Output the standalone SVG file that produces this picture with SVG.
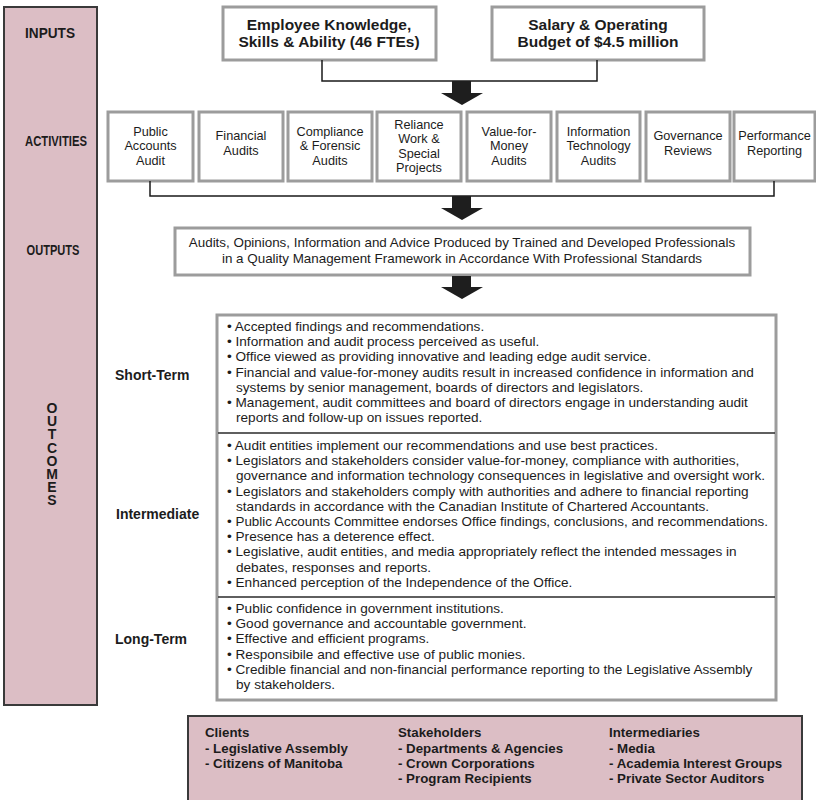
<svg xmlns="http://www.w3.org/2000/svg" width="816" height="800" viewBox="0 0 816 800">
<style>
text{font-family:"Liberation Sans",Arial,sans-serif;fill:#1c1c1c}
.side{fill:#dcbec5;stroke:#3a3a3a;stroke-width:2}
.box{fill:#fff;stroke:#9c9c9c;stroke-width:3}
.lbl{font-weight:bold;font-size:14px}
.side-t{font-weight:bold;font-size:14px;text-anchor:middle}
.vert{font-weight:bold;font-size:14px;writing-mode:vertical-rl;text-orientation:upright;letter-spacing:-2.8px}
.inp{font-weight:bold;font-size:15.5px;text-anchor:middle}
.act{font-size:12.7px;text-anchor:middle}
.out{font-size:13.4px;text-anchor:middle}
.body{font-size:13.6px}
.grp{font-weight:bold;font-size:13.3px}
.conn{fill:none;stroke:#1a1a1a;stroke-width:1.5}
.arrow{fill:#1e1e1e}
.div{stroke:#2a2a2a;stroke-width:1.5}
</style>

<g id="sidebar">
<rect class="side" x="4" y="7" width="93" height="698"/>
<text class="side-t" x="50" y="38" textLength="50" lengthAdjust="spacingAndGlyphs">INPUTS</text>
<text class="side-t" x="56" y="146" textLength="62" lengthAdjust="spacingAndGlyphs">ACTIVITIES</text>
<text class="side-t" x="53" y="255" textLength="53" lengthAdjust="spacingAndGlyphs">OUTPUTS</text>
<text class="vert" x="52" y="400">OUTCOMES</text>
</g>

<g id="input-knowledge">
<rect class="box" x="223" y="7" width="213" height="53"/>
<text class="inp" x="329" y="30">Employee Knowledge,</text>
<text class="inp" x="329" y="47">Skills &amp; Ability (46 FTEs)</text>
</g>
<g id="input-budget">
<rect class="box" x="492" y="7" width="212" height="53"/>
<text class="inp" x="598" y="30">Salary &amp; Operating</text>
<text class="inp" x="598" y="47">Budget of $4.5 million</text>
</g>

<g id="act-public">
<rect class="box" x="108" y="112" width="85" height="69"/>
<text class="act" x="150.5" y="135.5">Public</text>
<text class="act" x="150.5" y="150">Accounts</text>
<text class="act" x="150.5" y="164.5">Audit</text>
</g>
<g id="act-financial">
<rect class="box" x="199" y="112" width="84" height="69"/>
<text class="act" x="241" y="140">Financial</text>
<text class="act" x="241" y="154.5">Audits</text>
</g>
<g id="act-compliance">
<rect class="box" x="288" y="112" width="84" height="69"/>
<text class="act" x="330" y="135.5">Compliance</text>
<text class="act" x="330" y="150">&amp; Forensic</text>
<text class="act" x="330" y="164.5">Audits</text>
</g>
<g id="act-reliance">
<rect class="box" x="377" y="112" width="84" height="69"/>
<text class="act" x="419" y="128.5">Reliance</text>
<text class="act" x="419" y="143">Work &amp;</text>
<text class="act" x="419" y="157.5">Special</text>
<text class="act" x="419" y="172">Projects</text>
</g>
<g id="act-vfm">
<rect class="box" x="467" y="112" width="84" height="69"/>
<text class="act" x="509" y="135.5">Value-for-</text>
<text class="act" x="509" y="150">Money</text>
<text class="act" x="509" y="164.5">Audits</text>
</g>
<g id="act-it">
<rect class="box" x="557" y="112" width="83" height="69"/>
<text class="act" x="598.5" y="135.5">Information</text>
<text class="act" x="598.5" y="150">Technology</text>
<text class="act" x="598.5" y="164.5">Audits</text>
</g>
<g id="act-governance">
<rect class="box" x="646" y="112" width="84" height="69"/>
<text class="act" x="688" y="140">Governance</text>
<text class="act" x="688" y="154.5">Reviews</text>
</g>
<g id="act-performance">
<rect class="box" x="734" y="112" width="81" height="69"/>
<text class="act" x="774.5" y="140">Performance</text>
<text class="act" x="774.5" y="154.5">Reporting</text>
</g>

<g id="outputs">
<rect class="box" x="175" y="228" width="575" height="47"/>
<text class="out" x="462" y="247">Audits, Opinions, Information and Advice Produced by Trained and Developed Professionals</text>
<text class="out" x="462" y="263">in a Quality Management Framework in Accordance With Professional Standards</text>
</g>

<g id="outcomes">
<rect class="box" x="217" y="315" width="559" height="385"/>
<line class="div" x1="218" y1="433" x2="775" y2="433"/>
<line class="div" x1="218" y1="597" x2="775" y2="597"/>
<text class="lbl" x="115" y="380">Short-Term</text>
<text class="lbl" x="116" y="519">Intermediate</text>
<text class="lbl" x="115" y="644">Long-Term</text>
<text class="body" x="227" y="331">• Accepted findings and recommendations.</text>
<text class="body" x="227" y="346.2">• Information and audit process perceived as useful.</text>
<text class="body" x="227" y="361.4">• Office viewed as providing innovative and leading edge audit service.</text>
<text class="body" x="227" y="376.6">• Financial and value-for-money audits result in increased confidence in information and</text>
<text class="body" x="236" y="391.8">systems by senior management, boards of directors and legislators.</text>
<text class="body" x="227" y="407">• Management, audit committees and board of directors engage in understanding audit</text>
<text class="body" x="236" y="422.2">reports and follow-up on issues reported.</text>

<text class="body" x="227" y="450">• Audit entities implement our recommendations and use best practices.</text>
<text class="body" x="227" y="465.2">• Legislators and stakeholders consider value-for-money, compliance with authorities,</text>
<text class="body" x="236" y="480.4">governance and information technology consequences in legislative and oversight work.</text>
<text class="body" x="227" y="495.6">• Legislators and stakeholders comply with authorities and adhere to financial reporting</text>
<text class="body" x="236" y="510.8">standards in accordance with the Canadian Institute of Chartered Accountants.</text>
<text class="body" x="227" y="526" textLength="541" lengthAdjust="spacingAndGlyphs">• Public Accounts Committee endorses Office findings, conclusions, and recommendations.</text>
<text class="body" x="227" y="541.2">• Presence has a deterence effect.</text>
<text class="body" x="227" y="556.4">• Legislative, audit entities, and media appropriately reflect the intended messages in</text>
<text class="body" x="236" y="571.6">debates, responses and reports.</text>
<text class="body" x="227" y="586.8">• Enhanced perception of the Independence of the Office.</text>

<text class="body" x="227" y="613">• Public confidence in government institutions.</text>
<text class="body" x="227" y="628.2">• Good governance and accountable government.</text>
<text class="body" x="227" y="643.4">• Effective and efficient programs.</text>
<text class="body" x="227" y="658.6">• Responsibile and effective use of public monies.</text>
<text class="body" x="227" y="673.8">• Credible financial and non-financial performance reporting to the Legislative Assembly</text>
<text class="body" x="236" y="689">by stakeholders.</text>
</g>

<g id="audiences">
<rect class="side" x="188" y="716" width="614" height="95"/>
<text class="grp" x="205" y="737">Clients</text>
<text class="grp" x="205" y="753">- Legislative Assembly</text>
<text class="grp" x="205" y="768">- Citizens of Manitoba</text>
<text class="grp" x="398" y="737">Stakeholders</text>
<text class="grp" x="398" y="753">- Departments &amp; Agencies</text>
<text class="grp" x="398" y="768">- Crown Corporations</text>
<text class="grp" x="398" y="783">- Program Recipients</text>
<text class="grp" x="609" y="737">Intermediaries</text>
<text class="grp" x="609" y="753">- Media</text>
<text class="grp" x="609" y="768">- Academia Interest Groups</text>
<text class="grp" x="609" y="783">- Private Sector Auditors</text>
</g>

<g id="connectors">
<polyline class="conn" points="322,60 322,81 597,81 597,60"/>
<polyline class="conn" points="150,181 150,196 774,196 774,181"/>
<polygon class="arrow" points="452,81 471,81 471,93 483,93 462,105 441,93 452,93"/>
<polygon class="arrow" points="452,196 471,196 471,208 483,208 462,220 441,208 452,208"/>
<polygon class="arrow" points="452,276 471,276 471,287 483,287 462,299 441,287 452,287"/>
</g>
</svg>
